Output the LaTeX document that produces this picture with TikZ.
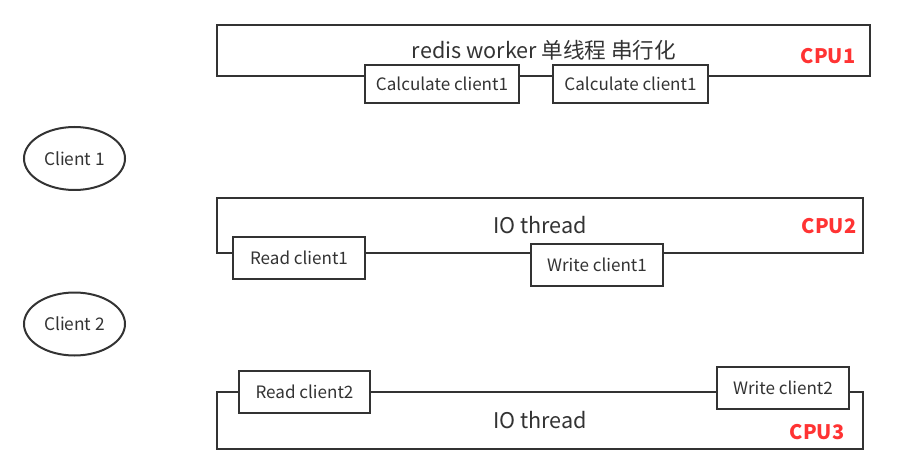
\documentclass[tikz,border=0pt]{standalone}
\usepackage{fontspec}
\setmainfont{Noto Sans CJK SC}
\usetikzlibrary{shapes.geometric}
\definecolor{ln}{HTML}{333333}
\definecolor{cpu}{HTML}{FF3333}
\begin{document}
\begin{tikzpicture}[x=0.75pt,y=-0.75pt,
  frame/.style 2 args={draw=ln,line width=1.5pt,fill=white,inner sep=0pt,
    minimum width=#1*0.75pt,minimum height=#2*0.75pt,text=ln,font=\fontsize{12.8}{15}\selectfont},
  client/.style={ellipse,draw=ln,line width=1.5pt,inner sep=0pt,
    minimum width=101*0.75pt,minimum height=63*0.75pt,text=ln,font=\fontsize{13}{15}\selectfont},
  title/.style={text=ln,inner sep=0pt,font=\fontsize{16.2}{19}\selectfont},
  cpulbl/.style={text=cpu,inner sep=0pt,font=\fontsize{15}{18}\selectfont\bfseries}]
\useasboundingbox[fill=white] (0,0) rectangle (914,474);
% CPU1
\node[frame={653}{51}] (cpu1) at (543.5,50.5) {};
\node[title] (t1) at (544,50) {redis worker 单线程 串行化};
\node[cpulbl] (c1) at (828,56) {CPU1};
\node[frame={154}{38}] (calc1) at (442,84) {Calculate client1};
\node[frame={155}{38}] (calc2) at (630.5,84) {Calculate client1};
% CPU2
\node[frame={646}{55}] (cpu2) at (540,225.5) {};
\node[title] (t2) at (540,225) {IO thread};
\node[cpulbl] (c2) at (829,226) {CPU2};
\node[frame={132}{42}] (read1) at (299,258) {Read client1};
\node[frame={132}{42}] (write1) at (597,265) {Write client1};
% CPU3
\node[frame={646}{57}] (cpu3) at (540,420.5) {};
\node[title] (t3) at (540,420) {IO thread};
\node[cpulbl] (c3) at (817,432) {CPU3};
\node[frame={131}{42}] (read2) at (304.5,392) {Read client2};
\node[frame={132}{42}] (write2) at (783,388) {Write client2};
% clients
\node[client] (cl1) at (74.5,158.5) {Client 1};
\node[client] (cl2) at (74.5,324) {Client 2};
\end{tikzpicture}
\end{document}
